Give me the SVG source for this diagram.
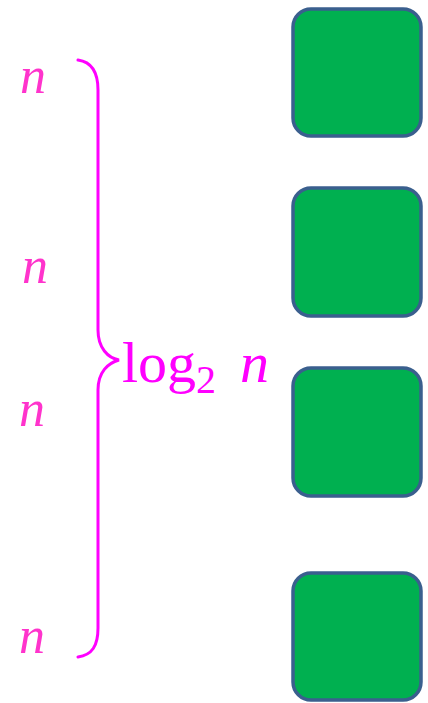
<svg xmlns="http://www.w3.org/2000/svg" width="428" height="703" viewBox="0 0 428 703">
<style>
.box{fill:#00B050;stroke:#3A5F8E;stroke-width:3.5}
.n{font-family:"Liberation Serif",serif;font-style:italic;font-size:52px;fill:#FF33CC}
.m{font-family:"Liberation Serif",serif;fill:#FF00FF}
.brace{fill:none;stroke:#FF00FF;stroke-width:3;stroke-linecap:round}
</style>
<rect width="428" height="703" fill="#FFFFFF"/>
<g id="box1"><rect class="box" x="293" y="9" width="128" height="127" rx="18"/></g>
<g id="box2"><rect class="box" x="293" y="188" width="128" height="128" rx="18"/></g>
<g id="box3"><rect class="box" x="293" y="368" width="128" height="128" rx="18"/></g>
<g id="box4"><rect class="box" x="293" y="573" width="128" height="127" rx="18"/></g>
<g id="labels">
<text class="n" x="20" y="93">n</text>
<text class="n" x="22" y="283">n</text>
<text class="n" x="19" y="426">n</text>
<text class="n" x="19" y="653">n</text>
</g>
<g id="brace">
<path class="brace" d="M78,60 C92,62 98,72 98,90 L98,330 C98,348 108,358 119,360 C108,363 98,372 98,390 L98,628 C98,646 92,655 78,657"/>
</g>
<g id="label">
<text class="m" x="122" y="382" font-size="58">log</text>
<text class="m" x="196" y="393" font-size="40">2</text>
<text class="m" x="240" y="382" font-size="58" font-style="italic">n</text>
</g>
</svg>
